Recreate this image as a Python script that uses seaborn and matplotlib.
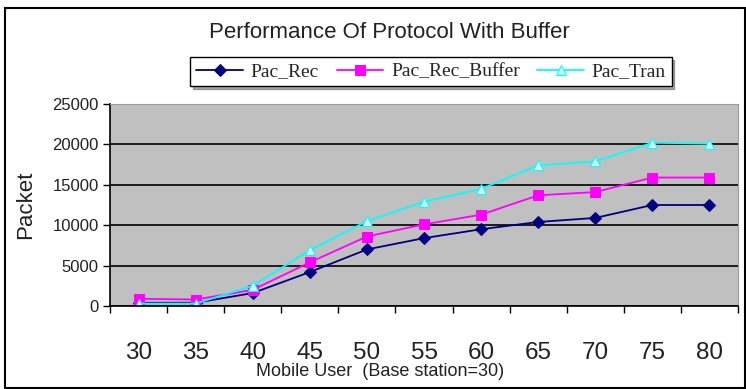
import matplotlib
matplotlib.use("Agg")
import matplotlib.pyplot as plt
import seaborn as sns
import pandas as pd
from matplotlib.patches import Rectangle
from matplotlib.ticker import FixedLocator

users = ["30", "35", "40", "45", "50", "55", "60", "65", "70", "75", "80"]
pac_rec = [400, 400, 1600, 4200, 7000, 8400, 9500, 10400, 10900, 12500, 12500]
pac_rec_buffer = [900, 800, 2000, 5400, 8600, 10100, 11300, 13700, 14100, 15900, 15900]
pac_tran = [300, 300, 2500, 6900, 10500, 12900, 14500, 17400, 17900, 20200, 20100]
series_names = ["Pac_Rec", "Pac_Rec_Buffer", "Pac_Tran"]
y_ticks = [0, 5000, 10000, 15000, 20000, 25000]

colors = ["#000080", "#FF00FF", "#00FFFF"]
markers = ["D", "s", "^"]
facecolors = ["#000080", "#FF00FF", "#CFFFFF"]

sns.set_style("white")
plt.rcParams["font.family"] = ["Liberation Sans", "DejaVu Sans"]

fig = plt.figure(figsize=(7.46, 3.89), dpi=100)
fig.patch.set_facecolor("white")
ax = fig.add_axes([110 / 746, 1 - 306 / 389, 628 / 746, 202 / 389])
ax.set_facecolor("#C0C0C0")

for name, vals, c, m, fc in zip(series_names, [pac_rec, pac_rec_buffer, pac_tran], colors, markers, facecolors):
    df = pd.DataFrame({"user": users, "packets": vals})
    sns.lineplot(data=df, x="user", y="packets", ax=ax, color=c, marker=m,
                 markersize=7 if m != "D" else 6, markerfacecolor=fc, markeredgecolor=c,
                 linewidth=1.3, label=name, sort=False)

ax.set_xlim(-0.5, len(users) - 0.5)
ax.set_ylim(0, 25000)
ax.set_yticks(y_ticks)
ax.set_yticklabels([str(v) for v in y_ticks], fontsize=12, color="#222222")
ax.yaxis.grid(True, color="black", linewidth=1.2)
ax.set_axisbelow(True)
ax.xaxis.set_minor_locator(FixedLocator([i - 0.5 for i in range(len(users) + 1)]))
ax.tick_params(axis="x", which="major", length=0, labelsize=17.5, pad=26, colors="#222222")
ax.tick_params(axis="x", which="minor", length=5, width=1, direction="out", color="black", bottom=True)
ax.tick_params(axis="y", length=5, width=1, direction="out", color="black", left=True, pad=3)

for s in ["left", "bottom"]:
    ax.spines[s].set_color("black")
    ax.spines[s].set_linewidth(1.2)
for s in ["top", "right"]:
    ax.spines[s].set_color("#9a9a9a")
    ax.spines[s].set_linewidth(0.8)

ax.set_xlabel("Mobile User  (Base station=30)", fontsize=13, color="#222222")
ax.xaxis.set_label_coords((380 - 110) / 628, -0.28)
ax.set_ylabel("Packet", fontsize=16, color="#222222")
ax.yaxis.set_label_coords(-(110 - 36) / 628, 0.5)
ax.get_legend().remove()

h, l = ax.get_legend_handles_labels()
leg = fig.legend(h, l, loc="center", bbox_to_anchor=(431 / 746, 1 - 71.5 / 389), ncol=3,
                 prop={"family": "Liberation Serif", "size": 14}, frameon=True, fancybox=False,
                 edgecolor="black", handlelength=2.4, columnspacing=0.9, borderpad=0.3,
                 handletextpad=0.4, shadow={"color": "#555555"})
leg.get_frame().set_linewidth(1.0)

fig.text(389 / 746, 1 - 33 / 389, "Performance Of Protocol With Buffer", ha="center", va="center",
         fontsize=16, color="#222222")

fig.patches.append(Rectangle((5 / 746, 1 - 388 / 389), 740 / 746, 380 / 389, transform=fig.transFigure,
                             fill=False, edgecolor="black", linewidth=1.5))

fig.savefig("out.png", dpi=100)
